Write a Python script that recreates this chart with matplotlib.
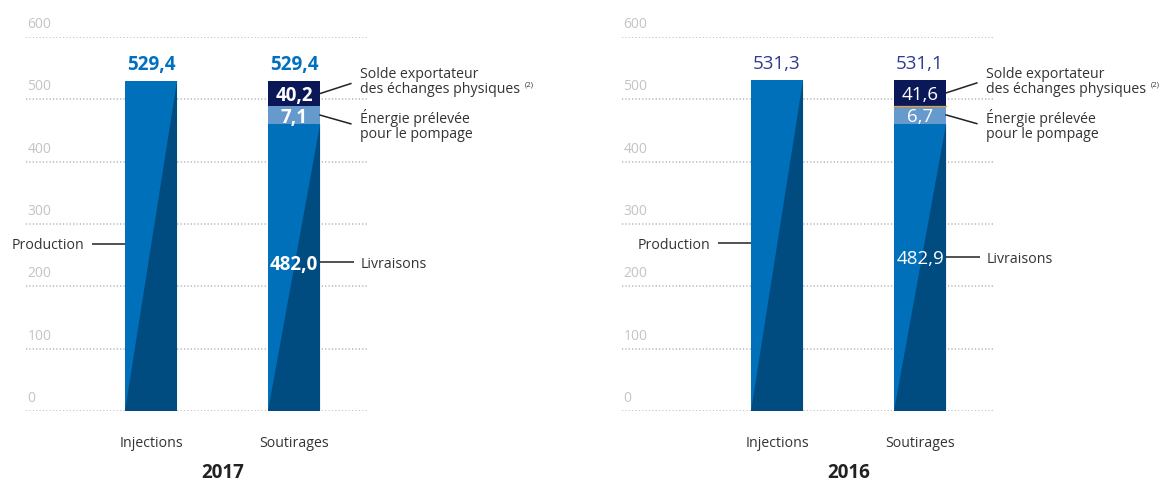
import matplotlib.pyplot as plt
from matplotlib.patches import Polygon

plt.rcParams['font.family'] = ['Open Sans', 'DejaVu Sans']

# données (TWh)
years = ['2017', '2016']
categories = ['Injections', 'Soutirages']
production = [529.4, 531.3]
livraisons = [482.0, 482.9]
pompage = [7.1, 6.7]
solde = [40.2, 41.6]
total_soutirages = [529.4, 531.1]
ticks = [0, 100, 200, 300, 400, 500, 600]

# couleurs
BLUE = '#0070BA'
DARK = '#004B80'
LIGHT = '#6699CC'
NAVY = '#0B1858'
GRID = '#B4B4B4'
TICK = '#C4C4C4'
TXT = '#333333'
LINE = '#222222'

W = 0.364        # largeur des barres
MIN_SEG = 29     # hauteur mini d'un segment pour y loger l'étiquette


def fmt(v):
    return f"{v:.1f}".replace('.', ',')


def panel(ax, i, xmin, bold, total_color, prod_y, liv_y, seam=None):
    ax.set_xlim(xmin, 1.51)
    ax.set_ylim(0, 600)
    ax.axis('off')
    weight = 'bold' if bold else 'normal'

    for v in ticks:
        ax.axhline(v, color=GRID, lw=1.1, ls=(0, (0.8, 1.4)), zorder=0)
        ax.annotate(str(v), xy=(0, v), xycoords=('axes fraction', 'data'),
                    xytext=(1, 6.5), textcoords='offset points',
                    ha='left', va='baseline', color=TICK, fontsize=10)

    # Injections
    h = production[i]
    ax.bar(0, h, width=W, color=BLUE, zorder=2)
    ax.add_patch(Polygon([(-W / 2, 0), (W / 2, h), (W / 2, 0)],
                         closed=True, color=DARK, lw=0, zorder=3))
    ax.annotate(fmt(h), xy=(0, h), xytext=(0, 8), textcoords='offset points',
                ha='center', va='baseline', fontsize=13.5, fontweight=weight,
                color=total_color)

    # Soutirages (empilé depuis le haut)
    top = total_soutirages[i]
    navy_bot = top - solde[i]
    light_bot = navy_bot - max(pompage[i], MIN_SEG)
    ax.bar(1, light_bot, width=W, color=BLUE, zorder=2)
    ax.add_patch(Polygon([(1 - W / 2, 0), (1 + W / 2, light_bot), (1 + W / 2, 0)],
                         closed=True, color=DARK, lw=0, zorder=3))
    ax.bar(1, navy_bot - light_bot, bottom=light_bot, width=W, color=LIGHT, zorder=2)
    ax.bar(1, top - navy_bot, bottom=navy_bot, width=W, color=NAVY, zorder=2)
    if seam:
        ax.plot([1 - W / 2, 1 + W / 2], [navy_bot, navy_bot], color=seam, lw=0.9, zorder=4)

    ax.annotate(fmt(top), xy=(1, top), xytext=(0, 8), textcoords='offset points',
                ha='center', va='baseline', fontsize=13.5, fontweight=weight,
                color=total_color)
    ax.text(1, (navy_bot + top) / 2, fmt(solde[i]), ha='center', va='center_baseline',
            fontsize=13.5, fontweight=weight, color='white', zorder=5)
    ax.text(1, (light_bot + navy_bot) / 2, fmt(pompage[i]), ha='center',
            va='center_baseline', fontsize=13.5, fontweight=weight, color='white', zorder=5)
    ax.text(1, liv_y, fmt(livraisons[i]), ha='center', va='center_baseline',
            fontsize=13.5, fontweight=weight, color='white', zorder=5)

    # légendes et traits de rappel
    ax.plot([-W / 2 - 0.231, -W / 2], [prod_y, prod_y], color=LINE, lw=1.1,
            solid_capstyle='butt', clip_on=False)
    ax.text(-W / 2 - 0.287, prod_y, 'Production', ha='right', va='center_baseline',
            fontsize=10.2, color=TXT)

    xr = 1 + W / 2
    ax.plot([xr, xr + 0.24], [liv_y, liv_y], color=LINE, lw=1.1,
            solid_capstyle='butt', clip_on=False)
    ax.text(1.462, liv_y, 'Livraisons', ha='left', va='center_baseline',
            fontsize=10.2, color=TXT)

    # va='baseline' sur un texte multiligne : c'est la dernière ligne qui est calée
    ym = (navy_bot + top) / 2
    ax.plot([xr, xr + 0.215], [ym, ym + 16], color=LINE, lw=1.1, clip_on=False)
    t = ax.text(1.462, 510, 'Solde exportateur\ndes échanges physiques',
                ha='left', va='baseline', fontsize=10.2, color=TXT, linespacing=0.97)
    ax.annotate('(2)', xy=(1, 0), xycoords=t, xytext=(3, 6.5), textcoords='offset points',
                ha='left', va='bottom', fontsize=5.5, color=TXT)

    ym = (light_bot + navy_bot) / 2
    ax.plot([xr, xr + 0.215], [ym, ym - 14], color=LINE, lw=1.1, clip_on=False)
    ax.text(1.462, 438.5, 'Énergie prélevée\npour le pompage',
            ha='left', va='baseline', fontsize=10.2, color=TXT, linespacing=0.97)

    # catégories et année
    for x, c in enumerate(categories):
        ax.annotate(c, xy=(x, 0), xytext=(0, -26), textcoords='offset points',
                    ha='center', va='baseline', fontsize=10.2, color=TXT)
    ax.annotate(years[i], xy=(0.5, 0), xytext=(0, -51.5), textcoords='offset points',
                ha='center', va='bottom', fontsize=13.5, fontweight='bold',
                color='#222222')


fig = plt.figure(figsize=(11.62, 4.84), dpi=100)
ax1 = fig.add_axes([26 / 1162, 73 / 484, 341 / 1162, 374 / 484])
ax2 = fig.add_axes([622 / 1162, 73 / 484, 371 / 1162, 374 / 484])

panel(ax1, 0, -0.874, True, '#0070C0', 268, 239)
panel(ax2, 1, -1.084, False, '#2E3C8E', 269, 247, seam='#F0A030')

fig.savefig('out.png', dpi=100)
